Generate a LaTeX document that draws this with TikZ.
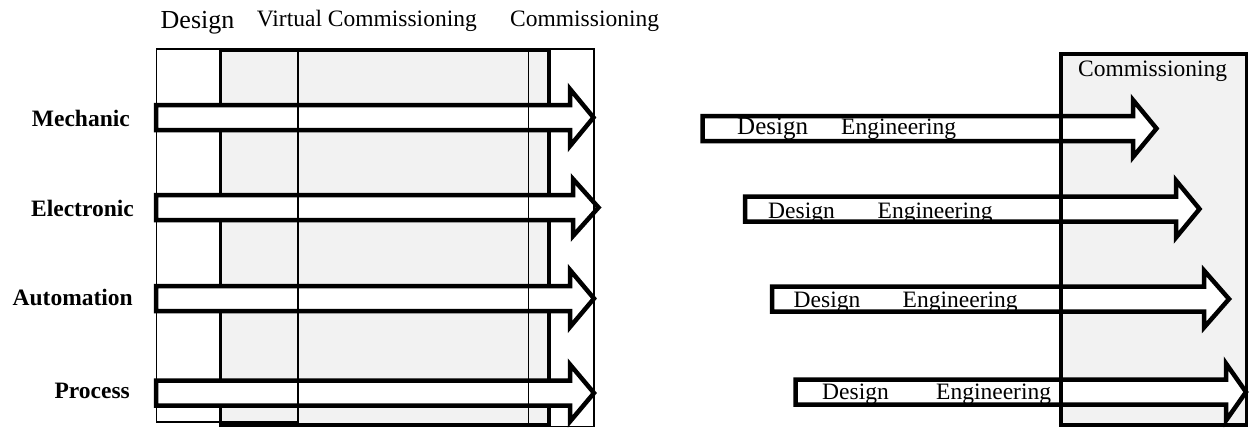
\documentclass[tikz,border=0pt]{standalone}
\usepackage{fontspec}
\setmainfont{Liberation Serif}
\newcommand\blockarr[5]{% name, x0, head base x, tip x, centre y
  \draw[blockarrow] (#2,#5-12.5) coordinate (#1-sw) -- (#3,#5-12.5) -- (#3,#5-28.5)
    -- (#4,#5) coordinate (#1-tip) -- (#3,#5+28.5) -- (#3,#5+12.5) -- (#2,#5+12.5) -- cycle;}
\begin{document}
\begin{tikzpicture}[x=1pt,y=-1pt,
  lbl/.style={inner sep=0pt, anchor=base west, font=\fontsize{23.5}{28}\selectfont},
  rowlbl/.style={inner sep=0pt, anchor=base east, font=\fontsize{23.5}{28}\selectfont\bfseries},
  thinbox/.style={draw=black, line width=1.3pt},
  graybox/.style={fill=black!5, draw=black, line width=3.5pt},
  grayfill/.style={fill=black!5, draw=none},
  blockarrow/.style={draw=black, fill=white, line width=4.5pt, line join=miter, miter limit=10},
]
\useasboundingbox (0,0) rectangle (1249,429);

% ---------- left chart ----------
\draw[graybox] (220.5,50) rectangle (549,425);

\blockarr{mech}{156}{570}{593.5}{117.5}
\blockarr{elec}{156}{573}{598.5}{207.5}
\blockarr{auto}{156}{570}{594}{298.5}
\blockarr{proc}{156}{570}{594}{393}

\draw[thinbox] (156.5,49) rectangle (298,422);
\draw[thinbox] (528.5,49) rectangle (594,426.5);

\node[lbl, font=\fontsize{26}{30}\selectfont] (tdesign) at (160.5,28.5) {Design};
\node[lbl] (tvirt) at (256.7,26) {Virtual Commissioning};
\node[lbl] (tcomm) at (510,26) {Commissioning};

\node[rowlbl] (lmech) at (130,126) {Mechanic};
\node[rowlbl] (lelec) at (134,216) {Electronic};
\node[rowlbl] (lauto) at (133,305) {Automation};
\node[rowlbl] (lproc) at (130,398) {Process};

% ---------- right chart ----------
\fill[grayfill] (1061,54) rectangle (1246.5,425);

\blockarr{r1}{702.5}{1133}{1156.5}{128.5}
\blockarr{r2}{745}{1176}{1199.5}{209}
\blockarr{r3}{772}{1204}{1229}{299}
\blockarr{r4}{795.5}{1226}{1246}{392}

\draw[black, line width=3.5pt] (1061,54) rectangle (1246.5,425);

\node[lbl] (rcomm) at (1078,76) {Commissioning};

\node[lbl, font=\fontsize{25}{28}\selectfont] (d1) at (737,134.5) {Design};
\node[lbl] (e1) at (841,134.5) {Engineering};
\node[lbl] (d2) at (768,218) {Design};
\node[lbl] (e2) at (877.5,218) {Engineering};
\node[lbl] (d3) at (793.5,307) {Design};
\node[lbl] (e3) at (902.5,307) {Engineering};
\node[lbl] (d4) at (822,399.5) {Design};
\node[lbl] (e4) at (936,399.5) {Engineering};
\end{tikzpicture}
\end{document}
